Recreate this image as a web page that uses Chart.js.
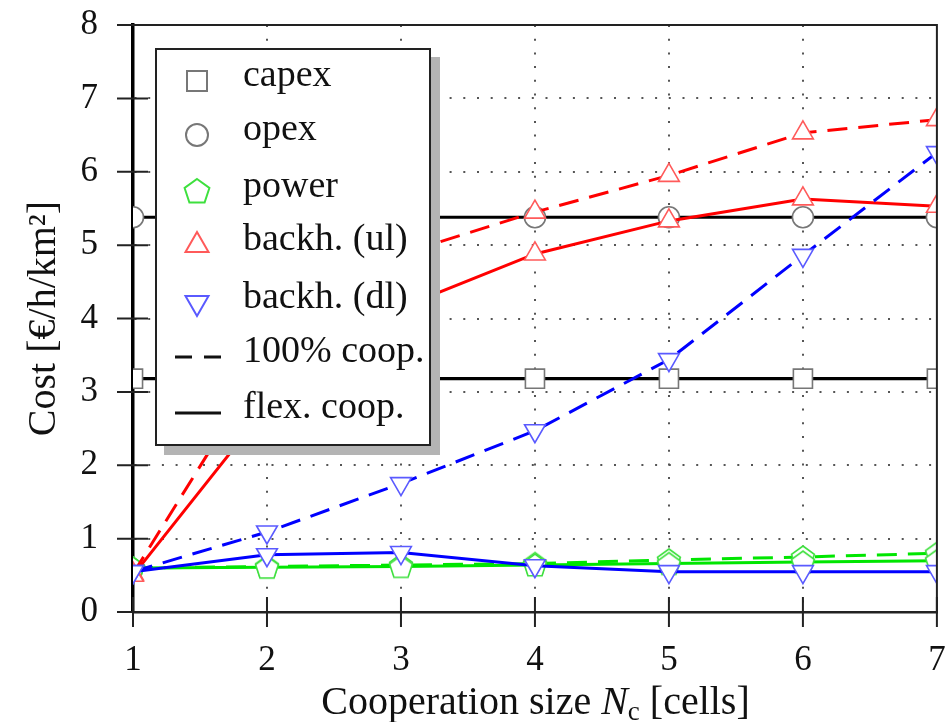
<!DOCTYPE html>
<html>
<head>
<meta charset="utf-8">
<script src="https://cdn.jsdelivr.net/npm/chart.js@4.4.1/dist/chart.umd.min.js"></script>
<style>
  html, body { margin: 0; padding: 0; background: #fff; }
  #wrap { position: relative; width: 952px; height: 722px; }
  #legend {
    position: absolute; left: 155px; top: 48px; width: 272px; height: 394px;
    background: #fff; border: 2px solid #222; box-shadow: 9px 9px 0 #b4b4b4;
    font-family: "Liberation Serif", serif; font-size: 38px; color: #111;
  }
  .row { position: absolute; left: 0; width: 300px; height: 56px; }
  .row svg { position: absolute; left: 10px; top: 8px; }
  .row span { position: absolute; left: 86px; top: 0; line-height: 56px; white-space: nowrap; }
  #xtitle {
    position: absolute; left: 133px; width: 805px; top: 679px; text-align: center;
    font-family: "Liberation Serif", serif; font-size: 40px; line-height: 44px; color: #111;
  }
  #xtitle sub { font-size: 27px; vertical-align: -6px; line-height: 0; }
</style>
</head>
<body>
<div id="wrap">
  <canvas id="chart" width="952" height="722"></canvas>
  <div id="legend"></div>
  <div id="xtitle">Cooperation size <i>N</i><sub>c</sub> [cells]</div>
</div>
<script>
/* ================= DATA ================= */
const cells = ["1", "2", "3", "4", "5", "6", "7"];

const capex     = [3.18, 3.18, 3.18, 3.18, 3.18, 3.18, 3.18];
const opex      = [5.38, 5.38, 5.38, 5.38, 5.38, 5.38, 5.38];
const powerFull = [0.60, 0.62, 0.64, 0.66, 0.71, 0.75, 0.80];
const powerFlex = [0.60, 0.61, 0.62, 0.64, 0.66, 0.68, 0.70];
const ulFull    = [0.52, 3.45, 4.88, 5.45, 5.95, 6.53, 6.71];
const ulFlex    = [0.50, 2.80, 4.15, 4.88, 5.33, 5.63, 5.53];
const dlFull    = [0.55, 1.09, 1.75, 2.47, 3.44, 4.86, 6.26];
const dlFlex    = [0.55, 0.78, 0.81, 0.63, 0.55, 0.55, 0.55];

const yTicks = [0, 1, 2, 3, 4, 5, 6, 7, 8];

/* ================= HELPERS ================= */
const SERIF = "'Liberation Serif', 'Times New Roman', serif";
const DASH = [20, 11];

function pentagon(color) {
  const c = document.createElement("canvas");
  c.width = 28; c.height = 28;
  const g = c.getContext("2d");
  g.beginPath();
  for (let i = 0; i < 5; i++) {
    const a = -Math.PI / 2 + i * 2 * Math.PI / 5;
    g.lineTo(14 + 12 * Math.cos(a), 15 + 12 * Math.sin(a));
  }
  g.closePath();
  g.fillStyle = "#fff";
  g.fill();
  g.lineWidth = 1.6;
  g.strokeStyle = color;
  g.stroke();
  return c;
}

const pent = pentagon("#3ee03e");

function series(data, line, mark, style, dashed, extra) {
  return Object.assign({
    data: data,
    borderColor: line,
    borderWidth: 3,
    borderDash: dashed ? DASH : [],
    pointStyle: style,
    pointBorderColor: mark,
    pointBackgroundColor: "#fff",
    pointBorderWidth: 1.6,
    pointRadius: 12,
    fill: false,
    tension: 0,
    clip: 0
  }, extra || {});
}

// drop the automatic label padding so the plot box sits exactly where the layout puts it
const noPad = s => {
  s.paddingTop = 0; s.paddingBottom = 0; s.paddingLeft = 0; s.paddingRight = 0;
};

/* ================= LEGEND ================= */
const legendRows = [
  { text: "capex", svg: '<rect x="20" y="10" width="20" height="20" fill="#fff" stroke="#777" stroke-width="2"/>' },
  { text: "opex", svg: '<circle cx="30" cy="20" r="11" fill="#fff" stroke="#777" stroke-width="2"/>' },
  { text: "power", svg: '<polygon points="30,7 42.4,16 37.6,30.5 22.4,30.5 17.6,16" fill="#fff" stroke="#3ee03e" stroke-width="2"/>' },
  { text: "backh. (ul)", svg: '<polygon points="30,7 41.5,27 18.5,27" fill="#fff" stroke="#ff5a5a" stroke-width="2"/>' },
  { text: "backh. (dl)", svg: '<polygon points="30,33 41.5,13 18.5,13" fill="#fff" stroke="#5a5aff" stroke-width="2"/>' },
  { text: "100% coop.", svg: '<line x1="8" y1="20" x2="54" y2="20" stroke="#111" stroke-width="3" stroke-dasharray="17 12"/>' },
  { text: "flex. coop.", svg: '<line x1="8" y1="20" x2="54" y2="20" stroke="#111" stroke-width="3"/>' }
];
const rowCenters = [31, 85, 142, 195, 253, 307, 363];

const legend = document.getElementById("legend");
legendRows.forEach((r, i) => {
  const div = document.createElement("div");
  div.className = "row";
  div.style.top = (rowCenters[i] - 28) + "px";
  div.innerHTML = `<svg width="60" height="40">${r.svg}</svg><span style="top:-8px">${r.text}</span>`;
  legend.appendChild(div);
});

/* ================= AXIS DECOR ================= */
const frame = {
  id: "frame",
  afterDraw(chart) {
    const { ctx, chartArea: a, scales: { x, y } } = chart;
    ctx.save();
    ctx.strokeStyle = "#222";
    ctx.lineWidth = 2;
    ctx.beginPath();
    ctx.moveTo(a.left, a.top);
    ctx.lineTo(a.right, a.top);
    ctx.lineTo(a.right, a.bottom);
    ctx.stroke();
    ctx.beginPath();
    y.ticks.forEach((t, i) => {
      const py = y.getPixelForTick(i);
      ctx.moveTo(a.left - 16, py);
      ctx.lineTo(a.left + 15, py);
    });
    x.ticks.forEach((t, i) => {
      const px = x.getPixelForTick(i);
      ctx.moveTo(px, a.bottom - 15);
      ctx.lineTo(px, a.bottom + 15);
    });
    ctx.stroke();
    ctx.restore();
  }
};

/* ================= CHART ================= */
new Chart(document.getElementById("chart"), {
  type: "line",
  data: {
    labels: cells,
    datasets: [
      series(dlFlex, "#0000ff", "#5a5aff", "triangle", false, { pointRotation: 180 }),
      series(dlFull, "#0000ff", "#5a5aff", "triangle", true, { pointRotation: 180 }),
      series(ulFlex, "#ff0000", "#ff5a5a", "triangle", false),
      series(ulFull, "#ff0000", "#ff5a5a", "triangle", true),
      series(powerFlex, "#00e600", "#3ee03e", pent, false),
      series(powerFull, "#00e600", "#3ee03e", pent, true),
      series(opex, "#000", "#777", "circle", false, { pointRadius: 10.5, borderWidth: 3.2 }),
      series(capex, "#000", "#777", "rect", false, { pointRadius: 13.5, borderWidth: 3.2 })
    ]
  },
  options: {
    responsive: false,
    animation: false,
    layout: { padding: { top: 25, right: 14, bottom: 0, left: 0 } },
    plugins: { legend: { display: false }, tooltip: { enabled: false } },
    scales: {
      x: {
        type: "category",
        offset: false,
        afterFit: s => { s.height = 110; noPad(s); },
        grid: {
          color: ctx => (ctx.index === 0 || ctx.index === cells.length - 1) ? "rgba(0,0,0,0)" : "#555",
          lineWidth: 2,
          drawTicks: false
        },
        border: { display: true, color: "#222", width: 2.5, dash: [2, 11.7] },
        ticks: { color: "#111", padding: 28, maxRotation: 0, font: { family: SERIF, size: 35 } }
      },
      y: {
        min: 0,
        max: 8,
        afterFit: s => { s.width = 133; noPad(s); },
        afterBuildTicks: s => { s.ticks = yTicks.map(v => ({ value: v })); },
        grid: {
          color: ctx => (ctx.tick && (ctx.tick.value === 0 || ctx.tick.value === 8)) ? "rgba(0,0,0,0)" : "#555",
          lineWidth: 2,
          drawTicks: false
        },
        border: { display: true, color: "#000", width: 3.5, dash: [2, 11.7] },
        ticks: { color: "#111", padding: 35, font: { family: SERIF, size: 35 } },
        title: {
          display: true,
          text: "Cost [€/h/km²]",
          color: "#111",
          padding: { top: 20, bottom: 0 },
          font: { family: SERIF, size: 40 }
        }
      }
    }
  },
  plugins: [frame]
});
</script>
</body>
</html>
